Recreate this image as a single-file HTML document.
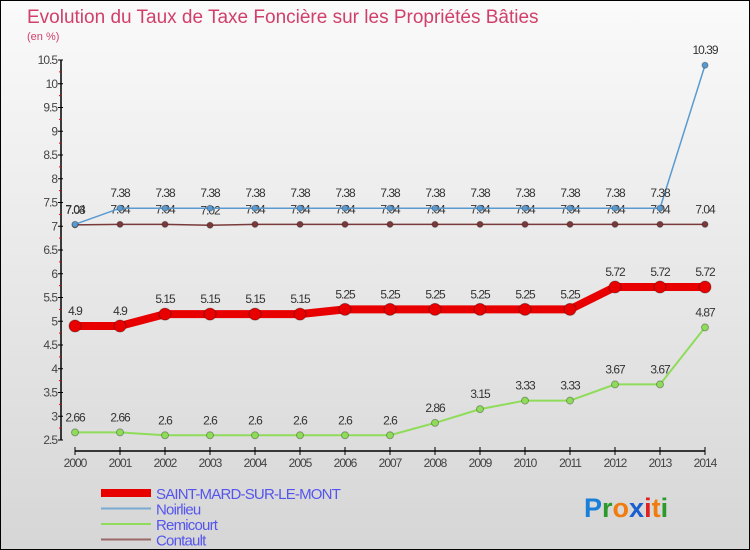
<!DOCTYPE html>
<html><head><meta charset="utf-8"><style>
body{margin:0}
#c{width:748px;height:548px;border:1px solid #000;background:linear-gradient(#fafafa,#d6d6d6);position:relative;overflow:hidden;font-family:"Liberation Sans",sans-serif}
</style></head><body>
<div id="c">
<svg id="s" width="748" height="548" xmlns="http://www.w3.org/2000/svg"></svg>
</div>
<script>
const years=[2000,2001,2002,2003,2004,2005,2006,2007,2008,2009,2010,2011,2012,2013,2014];
const saintMard=[4.9,4.9,5.15,5.15,5.15,5.15,5.25,5.25,5.25,5.25,5.25,5.25,5.72,5.72,5.72];
const noirlieu=[7.04,7.38,7.38,7.38,7.38,7.38,7.38,7.38,7.38,7.38,7.38,7.38,7.38,7.38,10.39];
const remicourt=[2.66,2.66,2.6,2.6,2.6,2.6,2.6,2.6,2.86,3.15,3.33,3.33,3.67,3.67,4.87];
const contault=[7.03,7.04,7.04,7.02,7.04,7.04,7.04,7.04,7.04,7.04,7.04,7.04,7.04,7.04,7.04];
const yTicks=[2.5,3,3.5,4,4.5,5,5.5,6,6.5,7,7.5,8,8.5,9,9.5,10,10.5];
const svg=document.getElementById('s');const NS='http://www.w3.org/2000/svg';
function X(i){return 74+i*45;}
function Y(v){return 439-(v-2.5)*47.5;}
function el(t,a,txt){const e=document.createElementNS(NS,t);for(const k in a)e.setAttribute(k,a[k]);if(txt!==undefined)e.textContent=txt;svg.appendChild(e);return e;}
let t=el('text',{x:26,y:22,fill:'#d0406a','font-size':19},'Evolution du Taux de Taxe Foncière sur les Propriétés Bâties');


t=el('text',{x:26,y:39,fill:'#d0406a','font-size':11},'(en %)');


let a=el('line',{x1:60,y1:Y(10.5),x2:60,y2:Y(2.5),stroke:'#000','stroke-width':1.5});


yTicks.forEach((v,i)=>{
 let l=el('line',{x1:57,y1:Y(v),x2:62,y2:Y(v),stroke:'#000'});
 
 
 if(v!==10.5){el('line',{x1:58,y1:Y(v+0.25),x2:60,y2:Y(v+0.25),stroke:'#e00'});}
 let tx=el('text',{x:56,y:Y(v)+4,'text-anchor':'end','font-size':12,fill:'#444','letter-spacing':'-1'},String(v));
 
 
});
a=el('line',{x1:74,y1:450,x2:X(14),y2:450,stroke:'#000','stroke-width':1.5});


years.forEach((y,i)=>{
 el('line',{x1:X(i),y1:446,x2:X(i),y2:454,stroke:'#000'});
 let tx=el('text',{x:X(i),y:466,'text-anchor':'middle','font-size':12,fill:'#444','letter-spacing':'-1'},String(y));
 
 
});
function series(data,color,w,r,name,labels){
 let p=el('polyline',{points:data.map((v,i)=>X(i)+','+Y(v)).join(' '),fill:'none',stroke:color,'stroke-width':w});
 
 
 data.forEach((v,i)=>{
  let c=el('circle',{cx:X(i),cy:Y(v),r:r,fill:color,stroke:'rgba(0,0,0,0.3)'});
  
  
  if(labels){let tx=el('text',{x:X(i),y:Y(v)-11,'text-anchor':'middle','font-size':12,fill:'#333','letter-spacing':'-1'},String(v));
  
  }
 });
}
series(contault,'#7a3a3a',1.5,3,'contault',true);
series(noirlieu,'#5a9ad0',1.5,3,'noirlieu',true);
series(remicourt,'#8fdc5a',2,3.5,'remicourt',true);
series(saintMard,'#e80000',8,6,'saint-mard',true);
const leg=[['SAINT-MARD-SUR-LE-MONT','#e80000',8],['Noirlieu','#7aaad0',2],['Remicourt','#8fdc5a',2],['Contault','#9a6a6a',2]];
leg.forEach((d,i)=>{
 const y=492+i*15.5;
 let l=el('line',{x1:100,y1:y,x2:150,y2:y,stroke:d[1],'stroke-width':d[2]});
 
 
 let tx=el('text',{x:155,y:y+6,'font-size':15,fill:'#5555ee','letter-spacing':'-0.8'},d[0]);
 
 
});
const logo=[['P','#1a7fd8'],['r','#2a9a2a'],['o','#f07c10'],['x','#1a5fd0'],['i','#e02020'],['t','#f07c10'],['i','#2a9a2a']];
let g=el('text',{x:583,y:516,'font-size':27,'font-weight':'bold'});


logo.forEach(d=>{const s=document.createElementNS(NS,'tspan');s.setAttribute('fill',d[1]);s.textContent=d[0];g.appendChild(s);});
</script>
</body></html>
